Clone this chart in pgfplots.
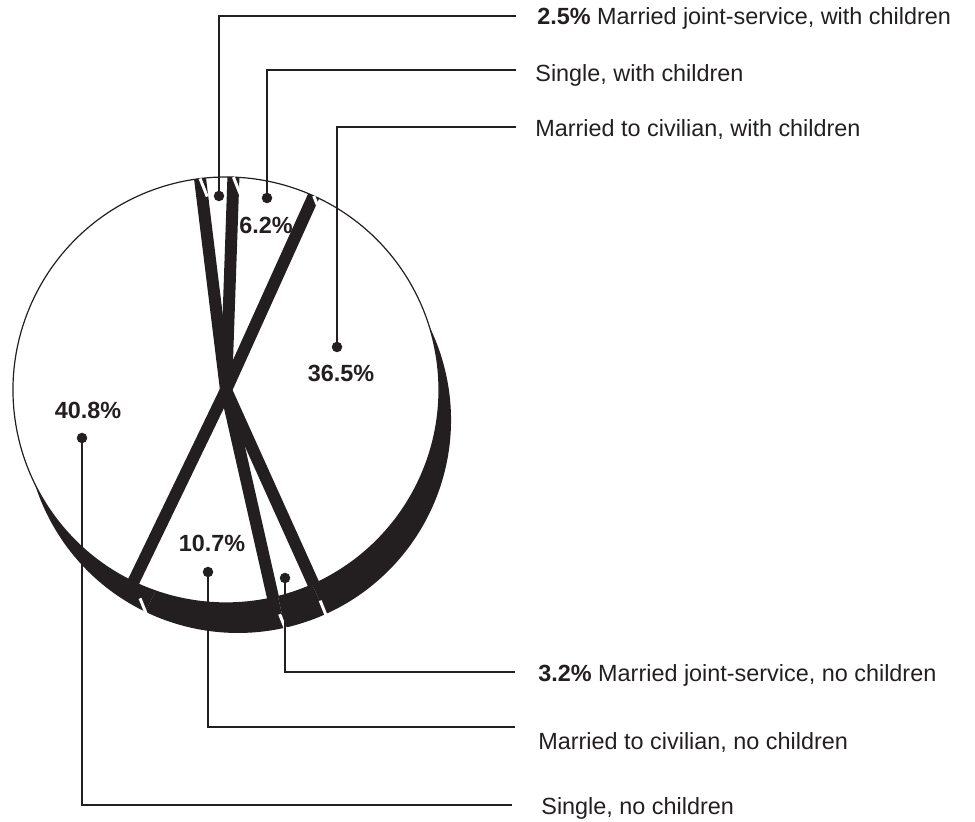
\documentclass[border=0pt]{standalone}
\usepackage{fontspec}
\setmainfont{Liberation Sans}
\usepackage{pgfplots}
\usepackage{pgfplotstable}
\pgfplotsset{compat=1.18}
\definecolor{pieink}{RGB}{35,31,32}

% shares in percent, clockwise from the top
\pgfplotstableread{
share
2.5
6.2
36.5
3.2
10.7
40.8
}\piedata

% 1 axis unit = 0.5pt
\def\cx{226}\def\cy{432}     % centre of the top face
\def\dcx{238}\def\dcy{402}   % centre of the shifted bottom face
\def\Ru{213}                 % radius in axis units
\def\R{106.5pt}              % same radius on the canvas
% start and end angle of every slice, and its rim point
\xdef\acc{97}%
\foreach \i in {0,...,5}{%
  \pgfplotstablegetelem{\i}{share}\of\piedata%
  \pgfmathsetmacro\b{\acc-3.6*\pgfplotsretval}%
  \pgfmathsetmacro\px{\cx+\Ru*cos(\acc)}%
  \pgfmathsetmacro\py{\cy+\Ru*sin(\acc)}%
  \expandafter\xdef\csname sa\i\endcsname{\acc}%
  \expandafter\xdef\csname ea\i\endcsname{\b}%
  \expandafter\xdef\csname px\i\endcsname{\px}%
  \expandafter\xdef\csname py\i\endcsname{\py}%
  \xdef\acc{\b}%
}

\begin{document}
\begin{tikzpicture}
\begin{axis}[
  scale only axis, width=487.5pt, height=411pt,
  xmin=0, xmax=975, ymin=0, ymax=822,
  hide axis, ticks=none, clip=false,
]
\coordinate (frameSW) at (axis cs:0,0);
\coordinate (frameNE) at (axis cs:975,822);
% depth of every slice
\pgfplotsinvokeforeach{0,...,5}{%
  \edef\tmp{\noexpand\fill[pieink] (axis cs:\dcx,\dcy) -- ++(\csname sa#1\endcsname:\R)
    arc[start angle=\csname sa#1\endcsname, end angle=\csname ea#1\endcsname, radius=\R] -- cycle;}\tmp
}
% top faces
\pgfplotsinvokeforeach{0,...,5}{%
  \edef\tmp{\noexpand\filldraw[fill=white, draw=pieink, line width=0.6pt] (axis cs:\cx,\cy) -- ++(\csname sa#1\endcsname:\R)
    arc[start angle=\csname sa#1\endcsname, end angle=\csname ea#1\endcsname, radius=\R] -- cycle;}\tmp
}
% dark side walls between the slices
\pgfplotsinvokeforeach{0,...,5}{%
  \edef\tmp{\noexpand\draw[pieink, line width=6pt] (axis cs:\cx,\cy) -- ++(\csname sa#1\endcsname:\R);}\tmp
}
% light edges where the walls meet the rim
\pgfplotsinvokeforeach{0,1,2}{%
  \edef\tmp{\noexpand\draw[white, line width=1.5pt] (axis cs:\csname px#1\endcsname,\csname py#1\endcsname) -- ++(axis direction cs:7.2,-18);}\tmp
}
\pgfplotsinvokeforeach{3,4,5}{%
  \edef\tmp{\noexpand\draw[white, line width=1.5pt] (axis cs:\csname px#1\endcsname,\csname py#1\endcsname) ++(axis direction cs:6.6,-16.5) -- ++(axis direction cs:7.2,-18);}\tmp
}
% leader lines
\pgfplotsset{leader/.style={pieink, line width=0.6pt, mark=*, mark size=2.3pt, mark indices={1}, mark options={fill=pieink}}}
\addplot[leader] coordinates {(219,626) (219,806) (516,806)};
\addplot[leader] coordinates {(267,624) (267,752) (516,752)};
\addplot[leader] coordinates {(337,475) (337,695) (516,695)};
\addplot[leader] coordinates {(285,244) (285,150) (515,150)};
\addplot[leader] coordinates {(208,250) (208,95) (515,95)};
\addplot[leader] coordinates {(82,384) (82,17) (512,17)};
% labels
\begin{scope}[every node/.style={inner sep=0pt, text=pieink, font=\fontsize{11.7}{14}\selectfont}]
\node[anchor=base west] at (axis cs:537,797) {\textbf{2.5\%} Married joint-service, with children};
\node[anchor=base west] at (axis cs:535,740) {Single, with children};
\node[anchor=base west] at (axis cs:535,685) {Married to civilian, with children};
\node[anchor=base west] at (axis cs:538,140) {\textbf{3.2\%} Married joint-service, no children};
\node[anchor=base west] at (axis cs:538,72) {Married to civilian, no children};
\node[anchor=base west] at (axis cs:541,7) {Single, no children};
\node[anchor=base, font=\fontsize{11.7}{14}\selectfont\bfseries] at (axis cs:266,588) {6.2\%};
\node[anchor=base, font=\fontsize{11.7}{14}\selectfont\bfseries] at (axis cs:341,440) {36.5\%};
\node[anchor=base, font=\fontsize{11.7}{14}\selectfont\bfseries] at (axis cs:88,403) {40.8\%};
\node[anchor=base, font=\fontsize{11.7}{14}\selectfont\bfseries] at (axis cs:212,270) {10.7\%};
\end{scope}
\end{axis}
\pgfresetboundingbox
\useasboundingbox (frameSW) rectangle (frameNE);
\end{tikzpicture}
\end{document}
